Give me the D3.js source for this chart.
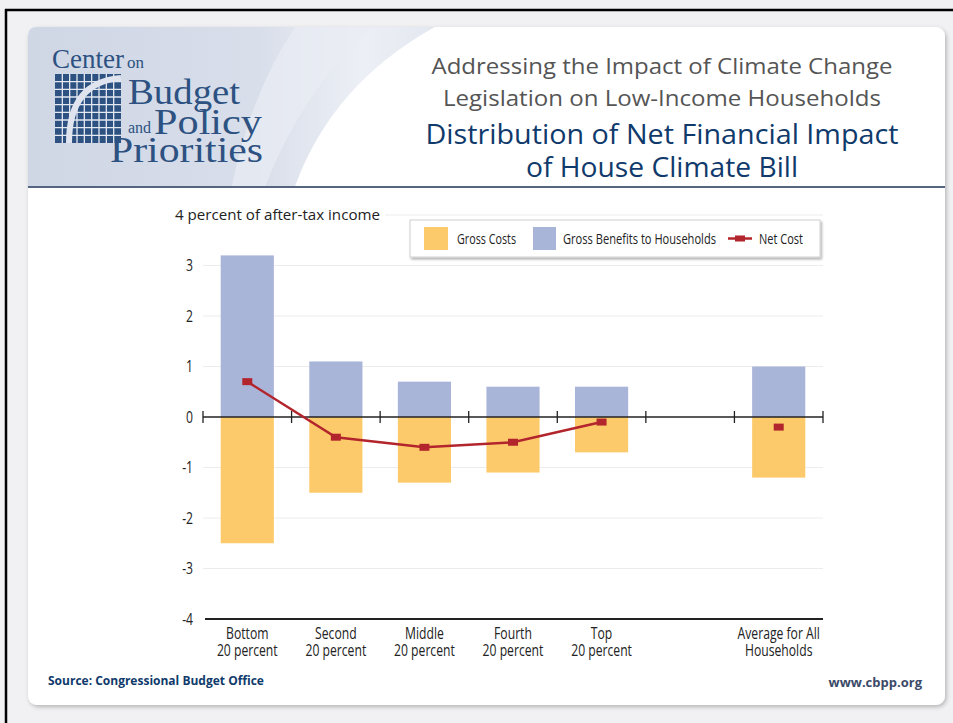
<!DOCTYPE html>
<html><head><meta charset="utf-8">
<script src="https://cdn.jsdelivr.net/npm/d3@7"></script>
<style>html,body{margin:0;padding:0;background:#f1f1f3;} svg{display:block}</style>
</head><body><svg id="c" width="953" height="723"></svg>
<script>
// ---- data ----
const categories = ["Bottom|20 percent","Second|20 percent","Middle|20 percent","Fourth|20 percent","Top|20 percent","Average for All|Households"];
const grossCosts = [-2.5,-1.5,-1.3,-1.1,-0.7,-1.2];
const grossBenefits = [3.2,1.1,0.7,0.6,0.6,1.0];
const netCost = [0.7,-0.4,-0.6,-0.5,-0.1,-0.2];
const netLinked = [true,true,true,true,true,false];
const yTicks = [-4,-3,-2,-1,0,1,2,3,4];
const seriesNames = ["Gross Costs","Gross Benefits to Households","Net Cost"];
const titleLines = ["Addressing the Impact of Climate Change","Legislation on Low-Income Households"];
const headLines = ["Distribution of Net Financial Impact","of House Climate Bill"];
const yLabel = "percent of after-tax income";
const source = "Source: Congressional Budget Office";
const site = "www.cbpp.org";

const C = {cost:"#fdca6b", benefit:"#a9b4d9", net:"#b3252c", navy:"#0f3a6b", logo:"#2d5282"};
const condensed = "'Liberation Sans Narrow','Arial Narrow','Open Sans',sans-serif";
const squeeze = 0.76;

const svg = d3.select("#c");
const defs = svg.append("defs");

// outer frame
svg.append("rect").attr("x",0).attr("y",0).attr("width",953).attr("height",723).attr("fill","#f1f1f3");
svg.append("line").attr("x1",5).attr("x2",953).attr("y1",10).attr("y2",10).attr("stroke","#000").attr("stroke-width",2.5);
svg.append("line").attr("x1",6).attr("x2",6).attr("y1",9).attr("y2",723).attr("stroke","#000").attr("stroke-width",2.5);

// panel with shadow
const sh = defs.append("filter").attr("id","sh").attr("x","-5%").attr("y","-5%").attr("width","110%").attr("height","110%");
sh.append("feDropShadow").attr("dx",1.5).attr("dy",2).attr("stdDeviation",2).attr("flood-color","#000").attr("flood-opacity",0.25);
svg.append("rect").attr("x",28).attr("y",27).attr("width",917).attr("height",678).attr("rx",9)
  .attr("fill","#fff").attr("filter","url(#sh)");

// header swoosh
const clip = defs.append("clipPath").attr("id","hc");
clip.append("path").attr("d","M37,27 H936 Q945,27 945,36 V187 H28 V36 Q28,27 37,27 Z");
const g1 = defs.append("linearGradient").attr("id","hg").attr("x1","0").attr("x2","1").attr("y1","0").attr("y2","0");
g1.append("stop").attr("offset","0").attr("stop-color","#cfd6e4");
g1.append("stop").attr("offset","0.55").attr("stop-color","#d8deea");
g1.append("stop").attr("offset","0.8").attr("stop-color","#eceff5");
g1.append("stop").attr("offset","1").attr("stop-color","#e2e6ef");
const hg = svg.append("g").attr("clip-path","url(#hc)");
hg.append("path").attr("d","M20,20 H448 Q330,80 292,195 H20 Z").attr("fill","url(#hg)");
hg.append("path").attr("d","M300,20 H380 Q300,90 262,195 H230 Q250,90 300,20 Z").attr("fill","#e9ecf3").attr("opacity",0.7);
svg.append("line").attr("x1",28).attr("x2",945).attr("y1",187).attr("y2",187).attr("stroke","#55657f").attr("stroke-width",2);

// logo
const lg = svg.append("g");
const serif = "'Liberation Serif','DejaVu Serif',serif";
lg.append("text").attr("x",52).attr("y",68).attr("font-family",serif).attr("font-size",27).attr("fill",C.logo)
  .text("Center").append("tspan").attr("font-size",17).attr("dx",3).text("on");
lg.append("text").attr("x",128).attr("y",104).attr("font-family",serif).attr("font-size",36).attr("fill",C.logo)
  .attr("textLength",112).attr("lengthAdjust","spacingAndGlyphs").text("Budget");
lg.append("text").attr("x",128).attr("y",133).attr("font-family",serif).attr("font-size",16).attr("fill",C.logo).text("and");
lg.append("text").attr("x",154).attr("y",134).attr("font-family",serif).attr("font-size",35).attr("fill",C.logo)
  .attr("textLength",108).attr("lengthAdjust","spacingAndGlyphs").text("Policy");
lg.append("text").attr("x",110).attr("y",162).attr("font-family",serif).attr("font-size",35).attr("fill",C.logo)
  .attr("textLength",153).attr("lengthAdjust","spacingAndGlyphs").text("Priorities");
// grid icon
const gx=55, gy=74, gw=66, gh=69;
lg.append("rect").attr("x",gx).attr("y",gy).attr("width",gw).attr("height",gh).attr("fill",C.logo);
const gl = lg.append("g").attr("stroke","#e3e8f1").attr("stroke-width",1.3);
d3.range(1,9).forEach(i=>{
  gl.append("line").attr("x1",gx+i*gw/9).attr("x2",gx+i*gw/9).attr("y1",gy).attr("y2",gy+gh);
  gl.append("line").attr("x1",gx).attr("x2",gx+gw).attr("y1",gy+i*gh/9).attr("y2",gy+i*gh/9);
});
lg.append("path").attr("d",`M${gx+14},${gy+gh} Q${gx+14},${gy+8} ${gx+gw},${gy+4}`)
  .attr("fill","none").attr("stroke","#dfe4ee").attr("stroke-width",6);

// titles
const tx = 662;
const tW1 = [461, 438];
titleLines.forEach((t,i)=>{
  svg.append("text").attr("x",tx).attr("y",74+i*32).attr("text-anchor","middle")
    .attr("font-family","'Open Sans',sans-serif").attr("font-size",22).attr("fill","#555")
    .attr("textLength",tW1[i]).attr("lengthAdjust","spacingAndGlyphs").text(t);
});
const tW2 = [473, 272];
headLines.forEach((t,i)=>{
  svg.append("text").attr("x",tx).attr("y",144+i*33).attr("text-anchor","middle")
    .attr("font-family","'Open Sans',sans-serif").attr("font-size",28).attr("fill",C.navy)
    .attr("textLength",tW2[i]).attr("lengthAdjust","spacingAndGlyphs").text(t);
});

// ---- chart ----
const xDomain = [...categories.slice(0,5), "__gap__", categories[5]];
const x = d3.scaleBand().domain(xDomain).range([203,823]).paddingInner(0).paddingOuter(0);
const y = d3.scaleLinear().domain([-4,4]).range([619,215]);
const bw = x.bandwidth()*0.6;
const cx = c => x(c) + x.bandwidth()/2;

const chart = svg.append("g");
// gridlines
chart.append("g").selectAll("line").data(yTicks.filter(v=>v!==0 && v!==-4)).join("line")
  .attr("x1",d=>d===4?385:203).attr("x2",823).attr("y1",d=>y(d)).attr("y2",d=>y(d))
  .attr("stroke","#ececec").attr("stroke-width",1);

// bars
chart.append("g").selectAll("rect").data(categories).join("rect")
  .attr("x",c=>cx(c)-bw/2).attr("width",bw)
  .attr("y",(c,i)=>y(grossBenefits[i])).attr("height",(c,i)=>y(0)-y(grossBenefits[i]))
  .attr("fill",C.benefit);
chart.append("g").selectAll("rect").data(categories).join("rect")
  .attr("x",c=>cx(c)-bw/2).attr("width",bw)
  .attr("y",y(0)).attr("height",(c,i)=>y(grossCosts[i])-y(0))
  .attr("fill",C.cost);

// zero axis with ticks
chart.append("line").attr("x1",203).attr("x2",823).attr("y1",y(0)).attr("y2",y(0)).attr("stroke","#222").attr("stroke-width",1.3);
const boundaries = [...xDomain.map(d=>x(d)), x.range()[1]];
chart.append("g").selectAll("line").data(boundaries).join("line")
  .attr("x1",d=>d).attr("x2",d=>d).attr("y1",y(0)-6).attr("y2",y(0)+6).attr("stroke","#222").attr("stroke-width",1.3);

// bottom axis line
chart.append("line").attr("x1",205).attr("x2",823).attr("y1",y(-4)).attr("y2",y(-4)).attr("stroke","#222").attr("stroke-width",2);

// y tick labels via axis
const yAxis = d3.axisLeft(y).tickValues(yTicks).tickSize(0).tickPadding(0).tickFormat(d=>String(d));
const ya = chart.append("g").attr("transform","translate(193,0)").call(yAxis);
ya.select(".domain").remove();
ya.selectAll("text").attr("font-family",condensed).attr("font-weight","normal").attr("font-size",16).attr("fill","#222")
  .attr("transform",`scale(${squeeze},1)`);
ya.selectAll(".tick").filter(d=>d===4).select("text")
  .attr("transform",null)
  .attr("text-anchor","start").attr("x",-18).attr("font-family","'Open Sans',sans-serif").attr("font-size",14)
  .attr("textLength",205).attr("lengthAdjust","spacingAndGlyphs")
  .text(d=>d+" "+yLabel);

// net line
const linked = categories.filter((c,i)=>netLinked[i]);
chart.append("path").datum(linked)
  .attr("d",d3.line().x(c=>cx(c)).y(c=>y(netCost[categories.indexOf(c)])))
  .attr("fill","none").attr("stroke",C.net).attr("stroke-width",2.5);
chart.append("g").selectAll("rect").data(categories).join("rect")
  .attr("x",c=>cx(c)-5).attr("y",(c,i)=>y(netCost[i])-3.5).attr("width",10).attr("height",7).attr("fill",C.net);

// category labels: one text per line, condensed via textLength
const labelLines = categories.flatMap(c=>c.split("|").map((p,i)=>({c,p,i})));
const cl = chart.append("g").selectAll("text").data(labelLines).join("text")
  .attr("x",d=>cx(d.c)).attr("y",d=>639+d.i*17).attr("text-anchor","middle")
  .attr("font-family",condensed).attr("font-weight","normal").attr("font-size",16).attr("fill","#222")
  .text(d=>d.p);
cl.each(function(){
  const w = this.getComputedTextLength();
  d3.select(this).attr("textLength",w*squeeze).attr("lengthAdjust","spacingAndGlyphs");
});

// legend
const leg = svg.append("g");
const lsh = defs.append("filter").attr("id","lsh").attr("x","-5%").attr("y","-20%").attr("width","110%").attr("height","150%");
lsh.append("feDropShadow").attr("dx",1.5).attr("dy",2).attr("stdDeviation",1.2).attr("flood-color","#000").attr("flood-opacity",0.3);
leg.append("rect").attr("x",410).attr("y",220).attr("width",410).attr("height",37).attr("fill","#fff")
  .attr("stroke","#d0d0d0").attr("filter","url(#lsh)");
leg.append("rect").attr("x",424).attr("y",227).attr("width",24).attr("height",23).attr("fill",C.cost);
leg.append("rect").attr("x",533).attr("y",227).attr("width",23).attr("height",23).attr("fill",C.benefit);
leg.append("line").attr("x1",728).attr("x2",752).attr("y1",238.5).attr("y2",238.5).attr("stroke",C.net).attr("stroke-width",2.5);
leg.append("rect").attr("x",735).attr("y",235.5).attr("width",10).attr("height",6).attr("fill",C.net);
[[457,seriesNames[0],59],[563,seriesNames[1],153],[759,seriesNames[2],44]].forEach(([lx,t,w])=>{
  leg.append("text").attr("x",lx).attr("y",244).attr("font-family",condensed).attr("font-weight","normal")
    .attr("font-size",15).attr("fill","#222")
    .attr("textLength",w).attr("lengthAdjust","spacingAndGlyphs").text(t);
});

// footer
svg.append("text").attr("x",48).attr("y",685).attr("font-family","'Open Sans',sans-serif").attr("font-weight","bold")
  .attr("font-size",12).attr("fill",C.navy).text(source);
svg.append("text").attr("x",922).attr("y",687).attr("text-anchor","end").attr("font-family","'Open Sans',sans-serif").attr("font-weight","bold")
  .attr("font-size",13).attr("fill","#3b4a68").text(site);
</script></body></html>
